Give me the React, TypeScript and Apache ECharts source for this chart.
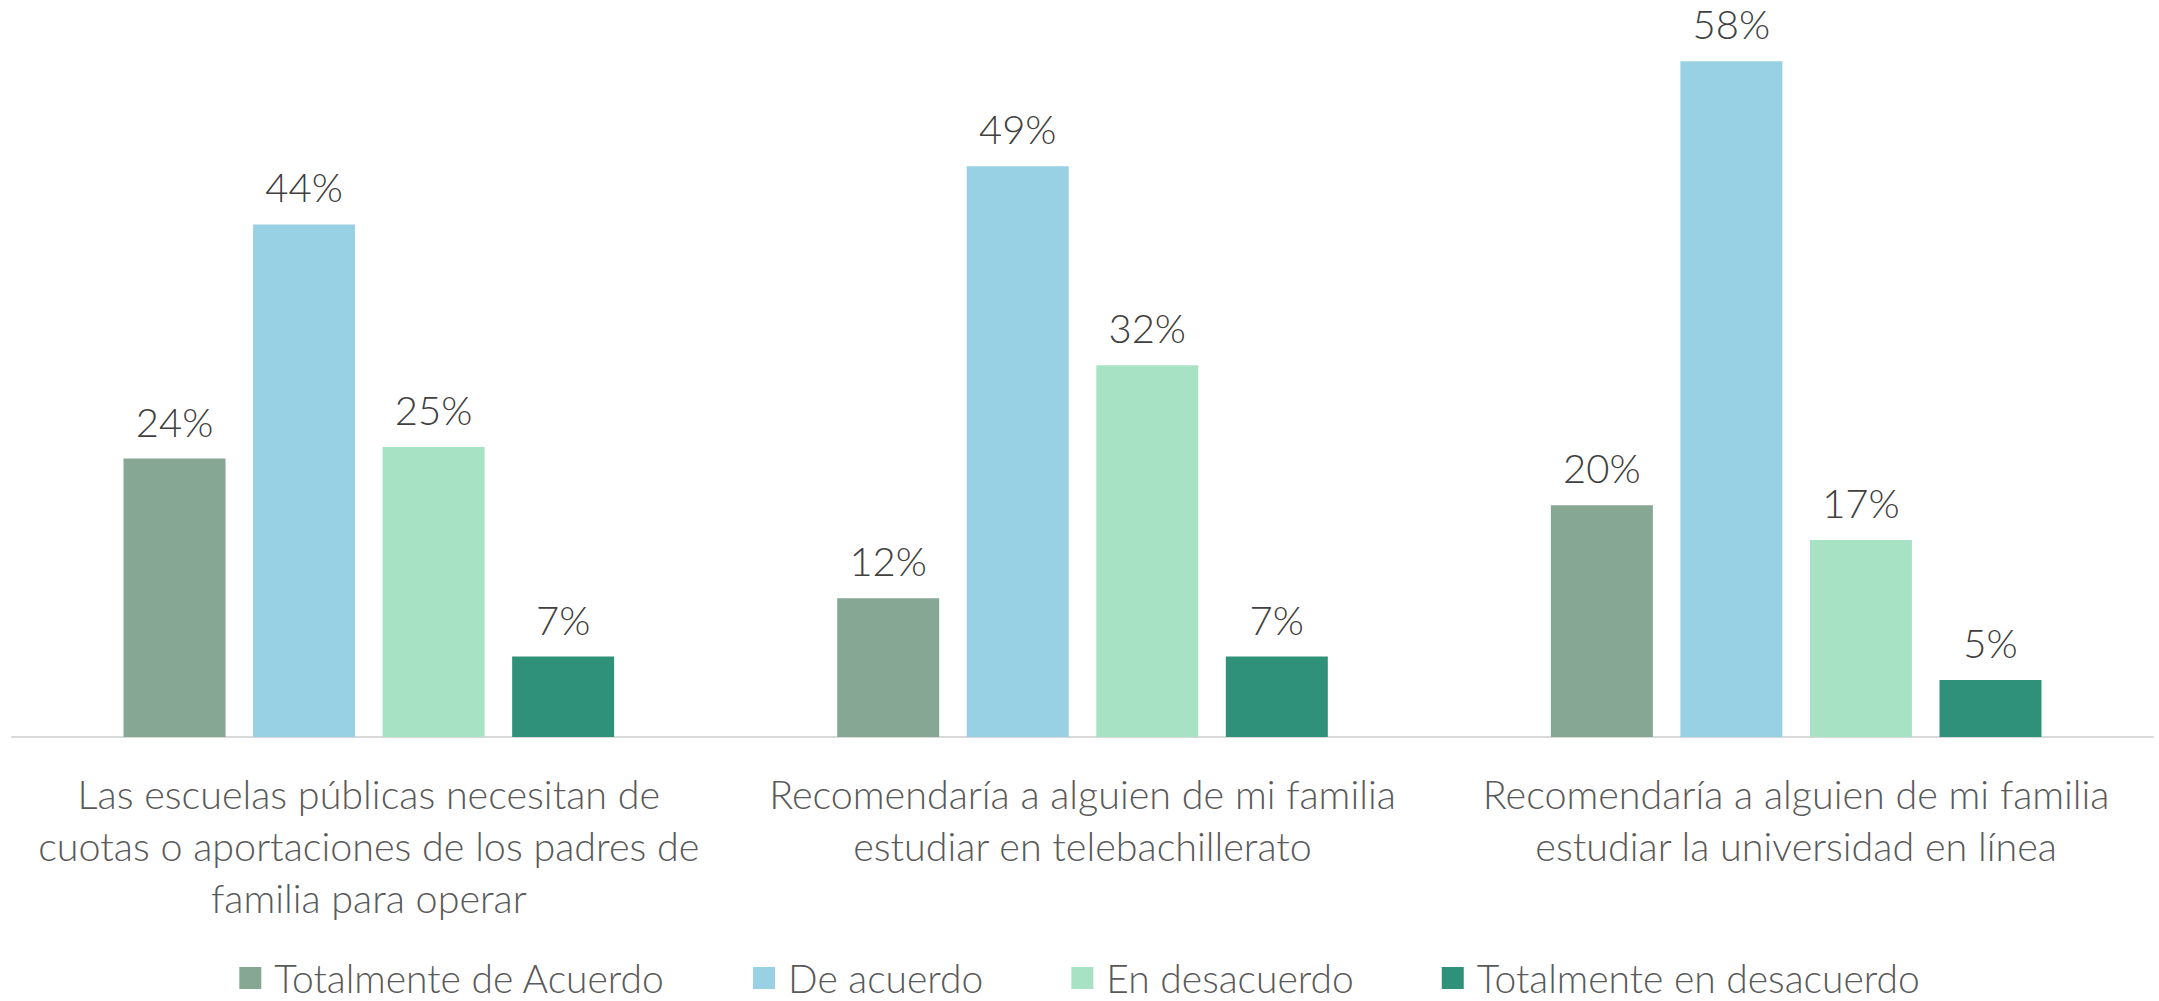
import React, { useEffect, useRef } from "react";
import * as echarts from "echarts";

const categories = [
  "Las escuelas públicas necesitan de\ncuotas o aportaciones de los padres de\nfamilia para operar",
  "Recomendaría a alguien de mi familia\nestudiar en telebachillerato",
  "Recomendaría a alguien de mi familia\nestudiar la universidad en línea",
];
const seriesNames = [
  "Totalmente de Acuerdo",
  "De acuerdo",
  "En desacuerdo",
  "Totalmente en desacuerdo",
];
const totalmenteAcuerdo = [23.9, 11.9, 19.9];
const deAcuerdo = [44.0, 49.0, 58.0];
const enDesacuerdo = [24.9, 31.9, 16.9];
const totalmenteDesacuerdo = [6.9, 6.9, 4.9];
const colors = ["#87A795", "#98D1E3", "#A8E2C5", "#30917A"];

const FONT = "Lato, 'Noto Sans', sans-serif";

export default function App() {
  const ref = useRef<HTMLDivElement>(null);
  useEffect(() => {
    if (!ref.current) return;
    const chart = echarts.init(ref.current, null, { renderer: "svg" });
    const allData = [totalmenteAcuerdo, deAcuerdo, enDesacuerdo, totalmenteDesacuerdo];
    chart.setOption({
      animation: false,
      backgroundColor: "#ffffff",
      color: colors,
      textStyle: { fontFamily: FONT },
      grid: { left: 12, right: 6, top: 38, bottom: 264, containLabel: false },
      legend: {
        data: seriesNames,
        top: 952,
        left: "center",
        icon: "rect",
        itemWidth: 22,
        itemHeight: 22,
        itemGap: 88,
        textStyle: {
          fontFamily: FONT,
          fontWeight: 300,
          fontSize: 39,
          lineHeight: 42,
          color: "#595959",
          padding: [0, 0, 0, 8],
        },
      },
      xAxis: {
        type: "category",
        data: categories,
        axisLine: { lineStyle: { color: "#D9D9D9", width: 2 } },
        axisTick: { show: false },
        axisLabel: {
          interval: 0,
          margin: 30,
          fontFamily: FONT,
          fontWeight: 300,
          fontSize: 39.5,
          lineHeight: 52,
          color: "#595959",
          align: "center",
        },
      },
      yAxis: {
        type: "value",
        min: 0,
        max: 60,
        show: false,
        splitLine: { show: false },
      },
      series: seriesNames.map((name, i) => ({
        name,
        type: "bar",
        data: allData[i],
        barWidth: 102,
        barGap: "27%",
        itemStyle: { color: colors[i] },
        label: {
          show: true,
          position: "top",
          distance: 17,
          fontFamily: FONT,
          fontWeight: 300,
          fontSize: 40,
          color: "#404040",
          formatter: (p: any) => Math.round(p.value) + "%",
        },
      })),
    });
    return () => chart.dispose();
  }, []);
  return (
    <div
      ref={ref}
      style={{ position: "fixed", left: 0, top: 0, width: 2159, height: 1001 }}
    />
  );
}
